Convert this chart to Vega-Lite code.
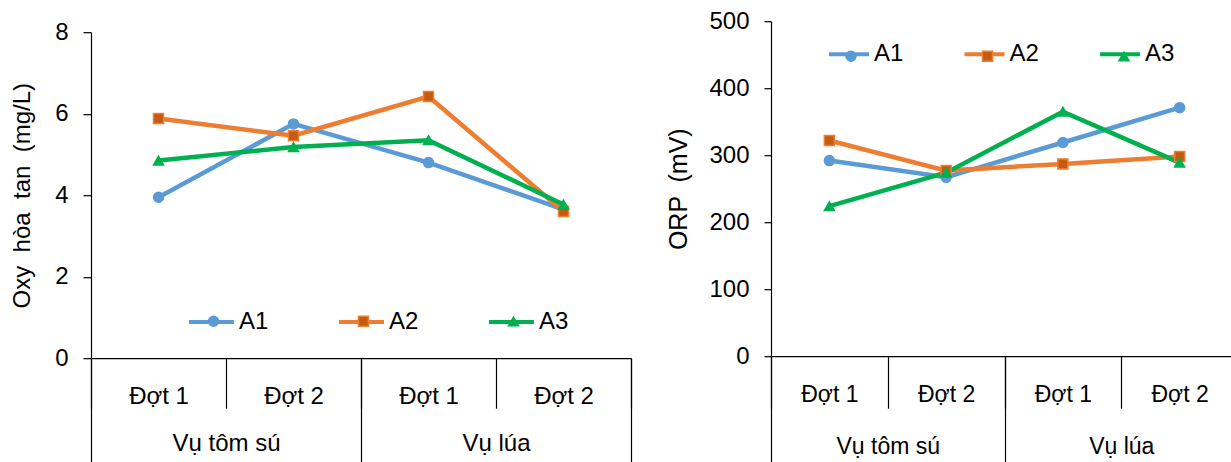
{
  "$schema": "https://vega.github.io/schema/vega-lite/v6.json",
  "padding": {"left": 10, "top": 9, "right": 0, "bottom": 0},
  "spacing": 34,
  "center": true,
  "datasets": {
    "do": [
      {"vu": "Vụ tôm sú", "dot": "Vụ tôm sú|Đợt 1", "series": "A1", "marker": "A1", "value": 3.95},
      {"vu": "Vụ tôm sú", "dot": "Vụ tôm sú|Đợt 2", "series": "A1", "marker": "A1", "value": 5.75},
      {"vu": "Vụ lúa", "dot": "Vụ lúa|Đợt 1", "series": "A1", "marker": "A1", "value": 4.8},
      {"vu": "Vụ lúa", "dot": "Vụ lúa|Đợt 2", "series": "A1", "marker": "A1", "value": 3.65},
      {"vu": "Vụ tôm sú", "dot": "Vụ tôm sú|Đợt 1", "series": "A2", "marker": "A2", "value": 5.88},
      {"vu": "Vụ tôm sú", "dot": "Vụ tôm sú|Đợt 2", "series": "A2", "marker": "A2", "value": 5.46},
      {"vu": "Vụ lúa", "dot": "Vụ lúa|Đợt 1", "series": "A2", "marker": "A2", "value": 6.42},
      {"vu": "Vụ lúa", "dot": "Vụ lúa|Đợt 2", "series": "A2", "marker": "A2", "value": 3.6},
      {"vu": "Vụ tôm sú", "dot": "Vụ tôm sú|Đợt 1", "series": "A3", "marker": "A3", "value": 4.85},
      {"vu": "Vụ tôm sú", "dot": "Vụ tôm sú|Đợt 2", "series": "A3", "marker": "A3", "value": 5.18},
      {"vu": "Vụ lúa", "dot": "Vụ lúa|Đợt 1", "series": "A3", "marker": "A3", "value": 5.35},
      {"vu": "Vụ lúa", "dot": "Vụ lúa|Đợt 2", "series": "A3", "marker": "A3", "value": 3.77}
    ],
    "orp": [
      {"vu": "Vụ tôm sú", "dot": "Vụ tôm sú|Đợt 1", "series": "A1", "marker": "A1", "value": 292},
      {"vu": "Vụ tôm sú", "dot": "Vụ tôm sú|Đợt 2", "series": "A1", "marker": "A1", "value": 267},
      {"vu": "Vụ lúa", "dot": "Vụ lúa|Đợt 1", "series": "A1", "marker": "A1", "value": 319},
      {"vu": "Vụ lúa", "dot": "Vụ lúa|Đợt 2", "series": "A1", "marker": "A1", "value": 371},
      {"vu": "Vụ tôm sú", "dot": "Vụ tôm sú|Đợt 1", "series": "A2", "marker": "A2", "value": 322},
      {"vu": "Vụ tôm sú", "dot": "Vụ tôm sú|Đợt 2", "series": "A2", "marker": "A2", "value": 277},
      {"vu": "Vụ lúa", "dot": "Vụ lúa|Đợt 1", "series": "A2", "marker": "A2", "value": 287},
      {"vu": "Vụ lúa", "dot": "Vụ lúa|Đợt 2", "series": "A2", "marker": "A2", "value": 298},
      {"vu": "Vụ tôm sú", "dot": "Vụ tôm sú|Đợt 1", "series": "A3", "marker": "A3", "value": 224},
      {"vu": "Vụ tôm sú", "dot": "Vụ tôm sú|Đợt 2", "series": "A3", "marker": "A3", "value": 274},
      {"vu": "Vụ lúa", "dot": "Vụ lúa|Đợt 1", "series": "A3", "marker": "A3", "value": 365},
      {"vu": "Vụ lúa", "dot": "Vụ lúa|Đợt 2", "series": "A3", "marker": "A3", "value": 289}
    ]
  },
  "hconcat": [
    {
      "width": 540,
      "height": 326,
      "data": {"name": "do"},
      "layer": [
        {
          "mark": {"type": "point", "opacity": 0},
          "encoding": {
            "x": {
              "field": "vu", "type": "nominal", "sort": ["Vụ tôm sú", "Vụ lúa"],
              "scale": {"type": "band", "paddingInner": 0, "paddingOuter": 0},
              "axis": {"orient": "bottom", "title": null, "domain": false, "tickBand": "extent", "tickSize": 110, "labelPadding": -18, "labelBaseline": "alphabetic", "labelAngle": 0, "labelFontSize": 24}
            }
          }
        },
        {
          "layer": [
            {
              "mark": {"type": "line", "strokeWidth": 4.5},
              "encoding": {
                "x": {
                  "field": "dot", "type": "nominal",
                  "sort": ["Vụ tôm sú|Đợt 1", "Vụ tôm sú|Đợt 2", "Vụ lúa|Đợt 1", "Vụ lúa|Đợt 2"],
                  "scale": {"type": "band", "paddingInner": 0, "paddingOuter": 0},
                  "axis": {"orient": "bottom", "title": null, "tickBand": "extent", "tickSize": 50, "labelPadding": -5, "labelBaseline": "alphabetic", "labelAngle": 0, "labelFontSize": 24, "labelExpr": "split(datum.label, '|')[1]"}
                },
                "y": {
                  "field": "value", "type": "quantitative",
                  "scale": {"domain": [0, 8], "nice": false},
                  "axis": {"values": [0, 2, 4, 6, 8], "title": "Oxy \u00a0hòa \u00a0tan \u00a0(mg/L)", "tickSize": 8, "labelPadding": 15, "titlePadding": 20, "labelFontSize": 24, "titleFontSize": 24}
                },
                "color": {
                  "field": "series", "type": "nominal",
                  "scale": {"range": ["#5B9BD5", "#ED7D31", "#00B050"]},
                  "legend": {"orient": "none", "legendX": 96, "legendY": 265, "direction": "horizontal", "title": null, "symbolType": "stroke", "symbolSize": 2025, "symbolStrokeWidth": 4, "labelFontSize": 24, "labelOffset": 3, "columnPadding": 62, "padding": 0}
                }
              }
            },
            {
              "mark": {"type": "point", "filled": true, "size": 100, "opacity": 1, "strokeWidth": 1.5},
              "encoding": {
                "x": {"field": "dot", "type": "nominal", "sort": ["Vụ tôm sú|Đợt 1", "Vụ tôm sú|Đợt 2", "Vụ lúa|Đợt 1", "Vụ lúa|Đợt 2"]},
                "y": {"field": "value", "type": "quantitative"},
                "shape": {
                  "field": "marker", "type": "nominal",
                  "scale": {"range": ["circle", "square", "triangle-up"]},
                  "legend": {"orient": "none", "legendX": 116.5, "legendY": 283, "direction": "horizontal", "title": null, "symbolSize": 100, "symbolStrokeWidth": 1.5, "labelExpr": "''", "labelOffset": 0, "columnPadding": 134, "padding": 0}
                },
                "fill": {
                  "field": "marker", "type": "nominal",
                  "scale": {"range": ["#5B9BD5", "#C55A11", "#00B050"]},
                  "legend": {"orient": "none", "legendX": 116.5, "legendY": 283, "direction": "horizontal", "title": null, "symbolSize": 100, "symbolStrokeWidth": 1.5, "labelExpr": "''", "labelOffset": 0, "columnPadding": 134, "padding": 0}
                },
                "stroke": {
                  "field": "marker", "type": "nominal",
                  "scale": {"range": ["#5B9BD5", "#ED7D31", "#00B050"]},
                  "legend": {"orient": "none", "legendX": 116.5, "legendY": 283, "direction": "horizontal", "title": null, "symbolSize": 100, "symbolStrokeWidth": 1.5, "labelExpr": "''", "labelOffset": 0, "columnPadding": 134, "padding": 0}
                }
              }
            }
          ]
        }
      ],
      "resolve": {"scale": {"x": "independent"}, "axis": {"x": "independent"}}
    },
    {
      "width": 467,
      "height": 335,
      "data": {"name": "orp"},
      "layer": [
        {
          "mark": {"type": "point", "opacity": 0},
          "encoding": {
            "x": {
              "field": "vu", "type": "nominal", "sort": ["Vụ tôm sú", "Vụ lúa"],
              "scale": {"type": "band", "paddingInner": 0, "paddingOuter": 0},
              "axis": {"orient": "bottom", "title": null, "domain": false, "tickBand": "extent", "tickSize": 123, "labelPadding": -26, "labelBaseline": "alphabetic", "labelAngle": 0, "labelFontSize": 23}
            }
          }
        },
        {
          "layer": [
            {
              "mark": {"type": "line", "strokeWidth": 4.5},
              "encoding": {
                "x": {
                  "field": "dot", "type": "nominal",
                  "sort": ["Vụ tôm sú|Đợt 1", "Vụ tôm sú|Đợt 2", "Vụ lúa|Đợt 1", "Vụ lúa|Đợt 2"],
                  "scale": {"type": "band", "paddingInner": 0, "paddingOuter": 0},
                  "axis": {"orient": "bottom", "title": null, "tickBand": "extent", "tickSize": 52, "labelPadding": -7, "labelBaseline": "alphabetic", "labelAngle": 0, "labelFontSize": 23, "labelExpr": "split(datum.label, '|')[1]"}
                },
                "y": {
                  "field": "value", "type": "quantitative",
                  "scale": {"domain": [0, 500], "nice": false},
                  "axis": {"values": [0, 100, 200, 300, 400, 500], "title": "ORP \u00a0(mV)", "tickSize": 7, "labelPadding": 15, "titlePadding": 17, "labelFontSize": 24, "titleFontSize": 25}
                },
                "color": {
                  "field": "series", "type": "nominal",
                  "scale": {"range": ["#5B9BD5", "#ED7D31", "#00B050"]},
                  "legend": {"orient": "none", "legendX": 56, "legendY": 11, "direction": "horizontal", "title": null, "symbolType": "stroke", "symbolSize": 1600, "symbolStrokeWidth": 4, "labelFontSize": 24, "labelOffset": 3, "columnPadding": 52.5, "padding": 0}
                }
              }
            },
            {
              "mark": {"type": "point", "filled": true, "size": 100, "opacity": 1, "strokeWidth": 1.5},
              "encoding": {
                "x": {"field": "dot", "type": "nominal", "sort": ["Vụ tôm sú|Đợt 1", "Vụ tôm sú|Đợt 2", "Vụ lúa|Đợt 1", "Vụ lúa|Đợt 2"]},
                "y": {"field": "value", "type": "quantitative"},
                "shape": {
                  "field": "marker", "type": "nominal",
                  "scale": {"range": ["circle", "square", "triangle-up"]},
                  "legend": {"orient": "none", "legendX": 74, "legendY": 29, "direction": "horizontal", "title": null, "symbolSize": 100, "symbolStrokeWidth": 1.5, "labelExpr": "''", "labelOffset": 0, "columnPadding": 120.5, "padding": 0}
                },
                "fill": {
                  "field": "marker", "type": "nominal",
                  "scale": {"range": ["#5B9BD5", "#C55A11", "#00B050"]},
                  "legend": {"orient": "none", "legendX": 74, "legendY": 29, "direction": "horizontal", "title": null, "symbolSize": 100, "symbolStrokeWidth": 1.5, "labelExpr": "''", "labelOffset": 0, "columnPadding": 120.5, "padding": 0}
                },
                "stroke": {
                  "field": "marker", "type": "nominal",
                  "scale": {"range": ["#5B9BD5", "#ED7D31", "#00B050"]},
                  "legend": {"orient": "none", "legendX": 74, "legendY": 29, "direction": "horizontal", "title": null, "symbolSize": 100, "symbolStrokeWidth": 1.5, "labelExpr": "''", "labelOffset": 0, "columnPadding": 120.5, "padding": 0}
                }
              }
            }
          ]
        }
      ],
      "resolve": {"scale": {"x": "independent"}, "axis": {"x": "independent"}}
    }
  ],
  "resolve": {
    "scale": {"color": "independent", "shape": "independent", "fill": "independent", "stroke": "independent", "y": "independent"},
    "legend": {"color": "independent", "shape": "independent", "fill": "independent", "stroke": "independent"}
  },
  "config": {
    "view": {"stroke": null},
    "font": "Liberation Sans",
    "axis": {"grid": false, "domainColor": "black", "tickColor": "black", "labelColor": "black", "titleColor": "black", "labelFont": "Liberation Sans", "titleFont": "Liberation Sans", "titleFontWeight": "normal", "domainWidth": 1.2, "tickWidth": 1.2},
    "legend": {"labelColor": "black", "labelFont": "Liberation Sans"}
  }
}
